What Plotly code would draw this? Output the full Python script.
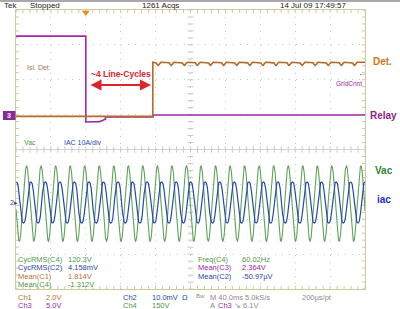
import numpy as np
import plotly.graph_objects as go

# ---------------- data ----------------
# time axis in ms, trigger at 0; 40 ms / div, 10 divs
t_range = [-80, 320]
# vertical axis in divisions (-4 .. 4)

# Ch3 purple (GridCnnt / Relay)
relay_t = [-80, 0, 0, 16, 19, 21, 22.5, 22.5, 77, 77, 320]
relay_y = [3.25, 3.25, 0.79, 0.80, 0.83, 0.86, 0.87, 0.93, 0.93, 0.99, 0.99]

# Ch1 brown (Isl. Det.)
isl_t_step = 76.8          # ms where the detection goes high
isl_low = 0.95             # div
isl_high = 2.50            # div
isl_ripple = 0.09          # div, depth of the small dips
isl_ripple_period = 15.0   # ms

# Ch4 green Vac and Ch2 blue iac (sinusoids)
line_freq_hz = 60.02
vac_offset, vac_amp, vac_peak_t = -1.55, 1.08, -67.9
iac_offset, iac_amp, iac_peak_t = -1.52, 0.59, -63.1

measure_left = [("CycRMS(C4)", "120.3V", "c4"), ("CycRMS(C2)", "4.158mV", "c2"),
                ("Mean(C1)", "1.814V", "c1"), ("Mean(C4)", "-1.312V", "c4")]
measure_right = [("Freq(C4)", "60.02Hz", "c4"), ("Mean(C3)", "2.364V", "c3"),
                 ("Mean(C2)", "-50.97µV", "c2")]

COL = dict(c1="#b8733a", c2="#2a48a8", c3="#9a2aa6", c4="#4f9a48", gray="#8c8c8c")
TRACE = dict(c1="#b5692a", c2="#2846b0", c3="#a02aaa", c4="#5fa35a")

FONT = "Liberation Sans Narrow, Liberation Sans, Arial, sans-serif"
FONT_B = "Liberation Sans, Arial, sans-serif"

# ---------------- build traces ----------------
t = np.linspace(t_range[0], t_range[1], 4000)
period = 1000.0 / line_freq_hz
vac = vac_offset + vac_amp * np.cos(2 * np.pi * (t - vac_peak_t) / period)
ph = 2 * np.pi * (t - iac_peak_t) / period
iac = iac_offset + iac_amp * (np.cos(ph) - 0.08 * np.cos(3 * ph)) / 0.92

th = np.linspace(isl_t_step, t_range[1], 1500)
dip = np.clip(np.cos(2 * np.pi * (th - isl_t_step - 6) / isl_ripple_period), 0.55, 1)
dip = (dip - 0.55) / 0.45
yh = isl_high - isl_ripple * dip
isl_t = np.concatenate([[t_range[0], isl_t_step], th])
isl_y = np.concatenate([[isl_low, isl_low], yh])

fig = go.Figure()
fig.add_trace(go.Scatter(x=t, y=vac, mode="lines", line=dict(color=TRACE["c4"], width=1.1)))
fig.add_trace(go.Scatter(x=t, y=iac, mode="lines", line=dict(color=TRACE["c2"], width=1.2)))
fig.add_trace(go.Scatter(x=relay_t, y=relay_y, mode="lines", line=dict(color=TRACE["c3"], width=1.6)))
fig.add_trace(go.Scatter(x=isl_t, y=isl_y, mode="lines", line=dict(color=TRACE["c1"], width=1.6)))
# trigger marker
fig.add_trace(go.Scatter(x=[0], y=[3.93], mode="markers", cliponaxis=False,
                         marker=dict(symbol="triangle-down", size=7, color="#e8901e")))

# ---------------- graticule ----------------
GRID = "#c8c8c8"
BORDER = "#cfc9a0"
shapes = []
xt = np.arange(t_range[0], t_range[1] + 0.01, 8)
yt = np.arange(-4, 4.01, 0.2)
tx = 0.09     # div length of x ticks
ty = 3.4      # ms length of y ticks
for xv in xt:
    for (y0, y1) in [(4, 4 - tx), (-4, -4 + tx), (-tx, tx)]:
        shapes.append(dict(type="line", x0=xv, x1=xv, y0=y0, y1=y1, layer="below",
                           line=dict(color=BORDER if abs(y0) == 4 else GRID, width=1)))
for yv in yt:
    for (x0, x1) in [(-80, -80 + ty), (320, 320 - ty), (120 - ty, 120 + ty)]:
        shapes.append(dict(type="line", x0=x0, x1=x1, y0=yv, y1=yv, layer="below",
                           line=dict(color=BORDER if x0 in (-80, 320) else GRID, width=1)))
shapes.append(dict(type="line", x0=-80, x1=320, y0=0, y1=0, layer="below",
                   line=dict(color="#d4d4d4", width=1)))


def xp(px):
    return (px - 16) / 349.0


def yp(py):
    return (289 - py) / 279.0


# top gray bar
shapes.append(dict(type="rect", xref="paper", yref="paper", x0=xp(0), x1=xp(400),
                   y0=yp(2), y1=yp(0), fillcolor="#a8a8a8", line=dict(width=0), layer="above"))
# channel 3 ground marker box
shapes.append(dict(type="rect", xref="paper", yref="paper", x0=xp(3), x1=xp(15.5),
                   y0=yp(120), y1=yp(111), fillcolor="#8a2a9a", line=dict(width=0), layer="above"))

ann = []


def txt(s, px, py, color, size=7.5, bold=False, anchor="left", family=FONT, **kw):
    if bold:
        s = "<b>" + s + "</b>"
    ann.append(dict(text=s, x=xp(px), y=yp(py), xref="paper", yref="paper",
                    xanchor=anchor, yanchor="middle", showarrow=False,
                    font=dict(color=color, size=size, family=family), **kw))


# header
txt("Tek", 2, 5.5, "#222222", 8)
txt("Stopped", 28, 5.5, "#222222", 8)
txt("1261 Acqs", 140, 5.5, "#222222", 8)
txt("14 Jul 09 17:49:57", 278, 5.5, "#222222", 8)

# in-plot labels
txt("Isl. Det.", 25, 67, "#a07a5a", 7)
txt("~4 Line-Cycles", 89, 74, "#e0222a", 8.5, bold=True, family=FONT_B)
ann.append(dict(x=xp(151), y=yp(85), ax=-62, ay=0, xref="paper", yref="paper",
                axref="pixel", ayref="pixel", text="", showarrow=True, arrowhead=2,
                startarrowhead=2, arrowside="end+start", arrowsize=1.1, startarrowsize=1.1,
                arrowwidth=2, arrowcolor="#e0222a"))
txt("Vac", 22, 142, COL["c4"], 7)
txt("IAC 10A/div", 62, 142, COL["c2"], 7)
txt("←", 356, 73, COL["c3"], 8)
txt("GridCnnt", 334, 83, COL["c3"], 6.5)

# right-side labels
txt("Det.", 371, 62, "#d27818", 10, bold=True, family=FONT_B)
txt("Relay", 368, 115, "#8e1e8e", 10, bold=True, family=FONT_B)
txt("Vac", 373, 170, "#2e8a2e", 10, bold=True, family=FONT_B)
txt("iac", 375, 199, "#1e2ed0", 10, bold=True, family=FONT_B)

# left markers
txt("3", 9, 115.5, "#ffffff", 7, bold=True, anchor="center", family=FONT_B)
txt("2▸", 8, 202, COL["c2"], 7)

# measurements
rows_y = [259, 267.5, 276, 284.5]
for (lab, val, c), yy in zip(measure_left, rows_y):
    txt(lab, 16, yy, COL[c], 7.5)
    txt(val, 66, yy, COL[c], 7.5)
for (lab, val, c), yy in zip(measure_right, rows_y):
    txt(lab, 196, yy, COL[c], 7.5)
    txt(val, 240, yy, COL[c], 7.5)

# bottom status lines
txt("Ch1", 16, 297, COL["c1"], 7.5)
txt("2.0V", 44, 297, COL["c1"], 7.5)
txt("Ch3", 16, 305, COL["c3"], 7.5)
txt("5.0V", 44, 305, COL["c3"], 7.5)
txt("Ch2", 121, 297, COL["c2"], 7.5)
txt("10.0mV  Ω", 150, 297, COL["c2"], 7.5)
txt("Bw", 194, 296, COL["gray"], 6)
txt("Ch4", 121, 305, COL["c4"], 7.5)
txt("150V", 150, 305, COL["c4"], 7.5)
txt("M 40.0ms 5.0kS/s", 208, 297, COL["gray"], 7.5)
txt("200µs/pt", 300, 297, COL["gray"], 7.5)
txt("A", 208, 305, COL["gray"], 7.5)
txt("Ch3", 216, 305, COL["c3"], 7.5)
txt("↘ 6.1V", 232, 305, COL["gray"], 7.5)

fig.update_layout(
    width=400, height=309,
    margin=dict(l=16, r=35, t=10, b=20),
    paper_bgcolor="white", plot_bgcolor="white",
    showlegend=False,
    shapes=shapes, annotations=ann,
    xaxis=dict(range=t_range, dtick=40, tick0=-80, showticklabels=False, ticks="",
               showgrid=True, gridcolor=GRID, griddash="1px,6px", gridwidth=1,
               zeroline=False, showline=True, linecolor=BORDER, linewidth=1, mirror=True,
               fixedrange=True),
    yaxis=dict(range=[-4, 4], dtick=1, tick0=-4, showticklabels=False, ticks="",
               showgrid=True, gridcolor=GRID, griddash="1px,6px", gridwidth=1,
               zeroline=False, showline=True, linecolor=BORDER, linewidth=1, mirror=True,
               fixedrange=True),
)

fig.write_html("out.html")
